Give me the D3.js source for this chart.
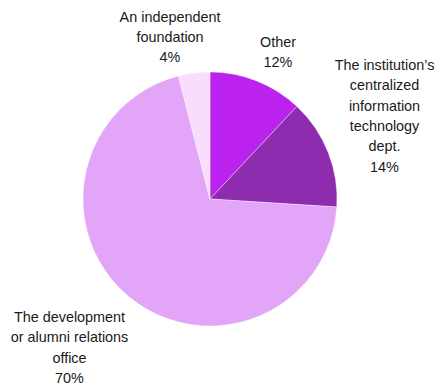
<!DOCTYPE html>
<html>
<head>
<meta charset="utf-8">
<script src="https://cdn.jsdelivr.net/npm/d3@7"></script>
<style>
  html, body { margin: 0; padding: 0; background: #fff; }
  svg text { font-family: Arial, "Liberation Sans", sans-serif; font-size: 14.4px; fill: #1a1a1a; }
</style>
</head>
<body>
<svg id="chart" width="436" height="388"></svg>
<script>
// Where the responsibility sits — share of respondents, clockwise from 12 o'clock
const categories = [
  "Other",
  "The institution\u2019s centralized information technology dept.",
  "The development or alumni relations office",
  "An independent foundation"
];
const values = [12, 14, 70, 4];
const colors = ["#bb22ee", "#8d2caf", "#e3a5f8", "#f8ddfd"];
// Label text broken into lines, one array per slice
const labelLines = [
  ["Other", "12%"],
  ["The institution\u2019s", "centralized", "information", "technology", "dept.", "14%"],
  ["The development", "or alumni relations", "office", "70%"],
  ["An independent", "foundation", "4%"]
];
// Anchor points (centre x, first baseline y) of each label block
const labelAnchors = [[278, 47], [384.5, 70], [69.5, 322], [170, 21.7]];

const svg = d3.select("#chart");
const cx = 210, cy = 199, r = 127;

const pie = d3.pie().sort(null).value(d => d);
const arc = d3.arc().innerRadius(0).outerRadius(r);

const g = svg.append("g").attr("transform", `translate(${cx},${cy})`);
g.selectAll("path")
  .data(pie(values))
  .join("path")
  .attr("d", arc)
  .attr("fill", (d, i) => colors[i])
  .attr("stroke", "#ffffff")
  .attr("stroke-width", 0.6)
  .attr("stroke-opacity", 0.6);

const lineH = 20.3;
labelLines.forEach((lines, i) => {
  const t = svg.append("text")
    .attr("text-anchor", "middle")
    .attr("x", labelAnchors[i][0])
    .attr("y", labelAnchors[i][1]);
  lines.forEach((ln, j) => {
    t.append("tspan")
      .attr("x", labelAnchors[i][0])
      .attr("dy", j === 0 ? 0 : lineH)
      .text(ln);
  });
});
</script>
</body>
</html>
